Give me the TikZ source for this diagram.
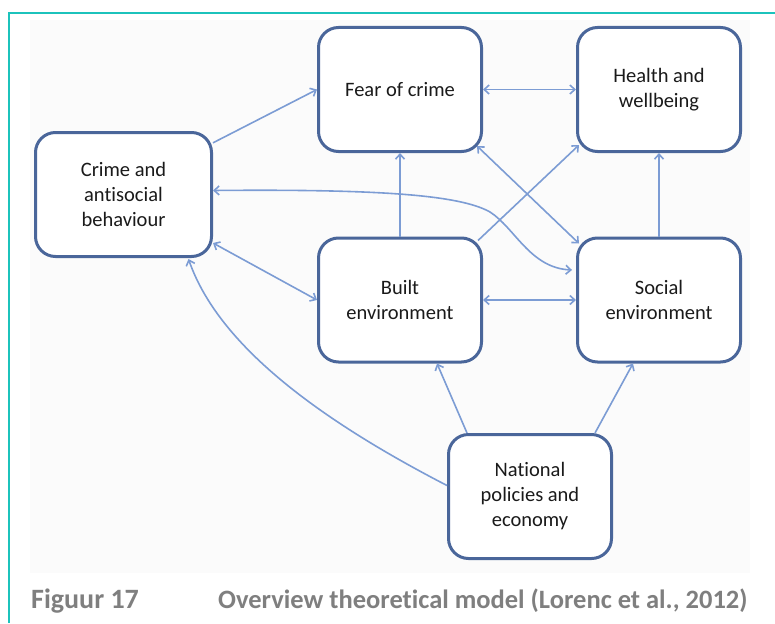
\documentclass[tikz,border=0pt]{standalone}
\usepackage{fontspec}
\setmainfont{Carlito}[Ligatures=NoCommon]
\usetikzlibrary{arrows.meta,calc}
\definecolor{framecyan}{HTML}{1CC3BC}
\definecolor{boxline}{HTML}{4A669A}
\definecolor{linkblue}{HTML}{7C9CD4}
\definecolor{captext}{HTML}{7F7F7F}
\definecolor{boxtext}{HTML}{1A1A1A}
\definecolor{panel}{HTML}{FBFBFB}

\begin{document}
\begin{tikzpicture}[x=1pt,y=-1pt,
  factor/.style={draw=boxline, line width=3pt, rounded corners=20pt, fill=white,
    minimum width=163pt, minimum height=124pt, align=center, inner sep=0pt,
    font=\fontsize{20.5}{25}\selectfont, text=boxtext},
  link/.style={draw=linkblue, line width=1.6pt, -{Straight Barb[length=5pt,width=9pt]}},
  both/.style={draw=linkblue, line width=1.6pt,
    {Straight Barb[length=5pt,width=9pt]}-{Straight Barb[length=5pt,width=9pt]}},
  caption/.style={anchor=base west, text=captext, inner sep=0pt,
    font=\bfseries\fontsize{28}{30}\selectfont}]

\useasboundingbox (0,0) rectangle (775,623);

% page panel and frame
\fill[panel] (30,20) rectangle (750,573);
\draw[framecyan, line width=2pt] (9,623) -- (9,13) -- (775,13);

% factors of the model
\node[factor, minimum width=176pt] (crime) at (123.5,194.5) {Crime and\\antisocial\\behaviour};
\node[factor] (fear)     at (400,89.5)  {Fear of crime};
\node[factor] (health)   at (659,89.5)  {Health and\\wellbeing};
\node[factor] (built)    at (400,300)   {Built\\environment};
\node[factor] (social)   at (659,300)   {Social\\environment};
\node[factor] (national) at (530,496.5) {National\\policies and\\economy};

% relations
\draw[link] (crime.30) -- (fear.west);
\draw[both] (fear.east) -- (health.west);
\draw[link] (built.north) -- (fear.south);
\draw[link] ($(built.north east)+(-5,4)$) -- ($(health.south west)+(3,-8)$);
\draw[both] ($(fear.south east)+(-6,-7)$) -- ($(social.north west)+(3,7)$);
\draw[link] (social.north) -- (health.south);
\draw[both] ($(crime.east)+(0,-4)$) .. controls (380,189) and (460,195) .. (490,212)
  .. controls (515,228) and (530,268) .. ($(social.west)+(-4,-30)$);
\draw[both] ($(crime.south east)+(0,-15)$) -- (built.west);
\draw[both] (built.east) -- (social.west);
\draw[link] ($(national.north west)+(20,0)$) -- ($(built.south)+(37,0)$);
\draw[link] ($(national.north east)+(-18,0)$) -- ($(social.south)+(-26,0)$);
\draw[link] ($(national.west)+(0,-11)$) .. controls (330,425) and (220,350) .. ($(crime.south)+(65,1)$);

% caption
\node[caption] (fignum) at (31,608) {Figuur 17};
\node[caption, font=\bfseries\fontsize{26.5}{30}\selectfont] (figtitle) at (218,608)
  {Overview theoretical model (Lorenc et al., 2012)};
\end{tikzpicture}
\end{document}
